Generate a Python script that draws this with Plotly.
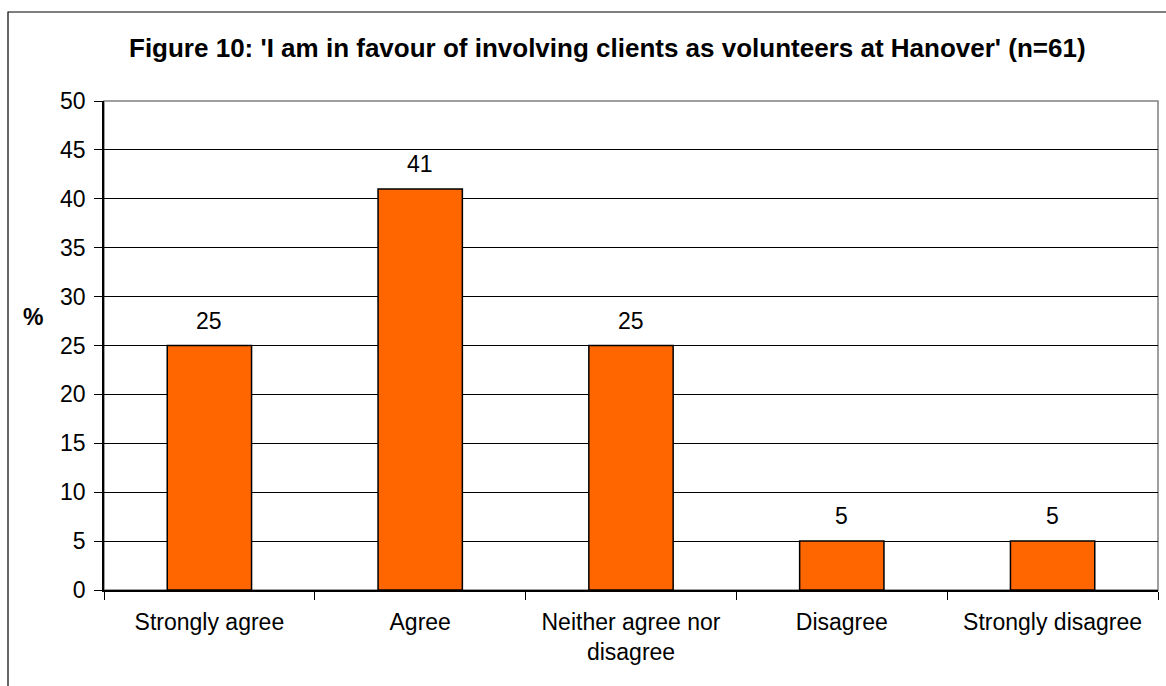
import plotly.graph_objects as go

# Survey responses (percent of n=61)
categories = ["Strongly agree", "Agree", "Neither agree nor<br>disagree", "Disagree", "Strongly disagree"]
percent = [25, 41, 25, 5, 5]
y_ticks = [0, 5, 10, 15, 20, 25, 30, 35, 40, 45, 50]

title_text = "Figure 10: 'I am in favour of involving clients as volunteers at Hanover' (n=61)"

FONT = "Liberation Sans, Arial, sans-serif"
W, H = 1166, 686
M = dict(l=104, r=8, t=101, b=96)
plot_w = W - M["l"] - M["r"]
plot_h = H - M["t"] - M["b"]
TICK_SIZE = 23


def px_x(px):
    return (px - M["l"]) / plot_w


def px_y(py):
    return (H - M["b"] - py) / plot_h


fig = go.Figure()
fig.add_trace(go.Bar(
    x=categories,
    y=percent,
    width=0.4,
    marker=dict(color="#FF6600", line=dict(color="#000000", width=1.5)),
    hoverinfo="skip",
))

annotations = []
# value labels above each bar
for cat, val in zip(categories, percent):
    annotations.append(dict(
        x=cat, y=val, xref="x", yref="y", text=str(val), showarrow=False,
        yanchor="bottom", yshift=10, font=dict(family=FONT, size=TICK_SIZE, color="#000"),
    ))
# chart title
annotations.append(dict(
    x=px_x(607), y=px_y(48), xref="paper", yref="paper", text=f"<b>{title_text}</b>",
    showarrow=False, xanchor="center", yanchor="middle",
    font=dict(family=FONT, size=26, color="#000"),
))
# y axis title
annotations.append(dict(
    x=px_x(33), y=px_y(317), xref="paper", yref="paper", text="<b>%</b>",
    showarrow=False, xanchor="center", yanchor="middle",
    font=dict(family=FONT, size=TICK_SIZE, color="#000"),
))

shapes = [
    # outer chart frame (left and top edges visible)
    dict(type="rect", xref="paper", yref="paper",
         x0=px_x(8), x1=px_x(1300), y0=px_y(800), y1=px_y(12),
         line=dict(color="#000000", width=1.2), fillcolor="rgba(0,0,0,0)", layer="below"),
    # plot area border
    dict(type="rect", xref="paper", yref="paper", x0=0, x1=1, y0=0, y1=1,
         line=dict(color="#808080", width=1.5), fillcolor="rgba(0,0,0,0)", layer="below"),
]

fig.update_layout(
    width=W, height=H,
    margin=dict(l=M["l"], r=M["r"], t=M["t"], b=M["b"], pad=0),
    paper_bgcolor="white", plot_bgcolor="white",
    showlegend=False,
    bargap=0.6,
    font=dict(family=FONT, size=TICK_SIZE, color="#000"),
    annotations=annotations,
    shapes=shapes,
)
fig.update_xaxes(
    type="category",
    showline=True, linecolor="#000000", linewidth=1.5,
    ticks="outside", ticklen=8, tickcolor="#000000", tickwidth=1,
    tickson="boundaries",
    showgrid=False,
    ticklabelstandoff=11,
    tickfont=dict(family=FONT, size=TICK_SIZE, color="#000"),
    fixedrange=True,
)
fig.update_yaxes(
    range=[0, 50],
    tickvals=y_ticks,
    showline=True, linecolor="#000000", linewidth=1.5,
    ticks="outside", ticklen=8, tickcolor="#000000", tickwidth=1,
    showgrid=True, gridcolor="#000000", gridwidth=1,
    zeroline=False,
    ticklabelstandoff=4,
    tickfont=dict(family=FONT, size=TICK_SIZE, color="#000"),
    fixedrange=True,
)

fig.write_html("out.html", config={"displayModeBar": False})
